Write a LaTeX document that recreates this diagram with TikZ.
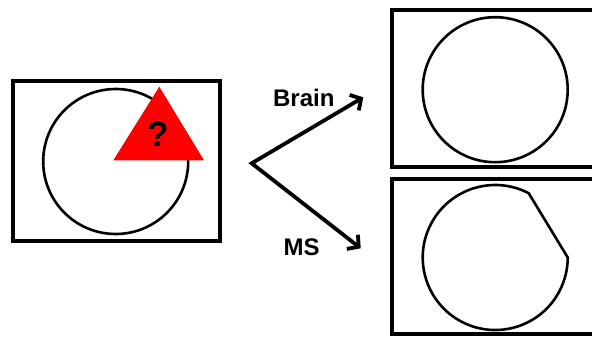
\documentclass[tikz,border=0pt]{standalone}
\usepackage{fontspec}
\setmainfont{Liberation Sans}
\usetikzlibrary{arrows.meta}
\begin{document}
\begin{tikzpicture}[x=1pt,y=-1pt,
  frame/.style={line width=4pt},
  ring/.style={line width=2.6pt},
  arr/.style={line width=3.8pt,line join=miter,{Straight Barb[length=8pt,width=18pt]}-{Straight Barb[length=8pt,width=18pt]}},
  lbl/.style={font=\fontsize{24}{28}\selectfont\bfseries, inner sep=0pt}]
\useasboundingbox (0,0) rectangle (592,338);
\clip (0,0) rectangle (592,338);
% left: input
\draw[frame] (13,81.3) rectangle (220,240.7);
\draw[ring] (115.7,161.5) circle (72.5);
\fill[red] (159.3,86.7) -- (113.3,160.3) -- (204,160.3) -- cycle;
\node[font=\fontsize{35}{38}\selectfont\bfseries, inner sep=0pt] (q) at (158.3,134) {?};
% arrows
\coordinate (v) at (251.7,163.3);
\coordinate (b) at (363.3,97.3);
\coordinate (m) at (360.7,248.3);
\draw[arr] (b) -- (v) -- (m);
\node[lbl] (brain) at (303.8,98.3) {Brain};
\node[lbl] (ms) at (301.7,247.5) {MS};
% top right: Brain result
\draw[frame] (392,10.3) rectangle (620,167);
\draw[ring] (495.2,89.7) circle (72.5);
% bottom right: MS result
\draw[frame] (392,178.7) rectangle (620,333.7);
\draw[ring,line join=round] (528.7,193.2) arc[start angle=-62.5, end angle=-360, radius=72.5] -- cycle;
\end{tikzpicture}
\end{document}
